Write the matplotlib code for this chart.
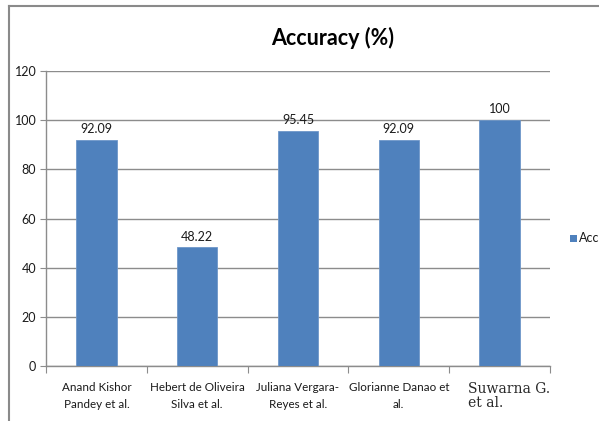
import matplotlib
matplotlib.use("Agg")
import matplotlib.pyplot as plt
from matplotlib.lines import Line2D
from matplotlib.patches import Rectangle
import numpy as np

authors = ["Anand Kishor\nPandey et al.", "Hebert de Oliveira\nSilva et al.",
           "Juliana Vergara-\nReyes et al.", "Glorianne Danao et\nal.",
           "Suwarna G.\net al."]
accuracy = [92.09, 48.22, 95.45, 92.09, 100]
value_labels = ["92.09", "48.22", "95.45", "92.09", "100"]
y_ticks = [0, 20, 40, 60, 80, 100, 120]
series_name = "Accuracy"

bar_color = "#4F81BD"
grid_color = "#8C8C8C"
text_color = "#1a1a1a"
font = ["Lato", "DejaVu Sans"]

fig = plt.figure(figsize=(5.99, 4.21), dpi=100)
ax = fig.add_axes([46 / 599, 1 - 366 / 421, 504 / 599, 295 / 421])

x = np.arange(len(accuracy))
ax.bar(x, accuracy, width=0.40, color=bar_color, edgecolor="#6F97C9",
       linewidth=0.6, zorder=3)
for xi, v, lab in zip(x, accuracy, value_labels):
    ax.annotate(lab, (xi, v), xytext=(0, 3.5), textcoords="offset points",
                ha="center", va="bottom", fontsize=9, family=font,
                color=text_color)

ax.set_xlim(-0.5, len(accuracy) - 0.5)
ax.set_ylim(0, 120)
ax.set_yticks(y_ticks)
ax.set_yticklabels([str(t) for t in y_ticks], family=font, fontsize=9,
                   color=text_color)
ax.yaxis.grid(True, color=grid_color, linewidth=1.0, zorder=0)
ax.set_axisbelow(True)
ax.tick_params(axis="y", length=4, width=0.8, color=grid_color, pad=3)

# category boundaries as tick marks, labels centred under bars
ax.set_xticks(np.arange(-0.5, len(accuracy)), minor=False)
ax.set_xticklabels([])
ax.tick_params(axis="x", length=5, width=0.8, color=grid_color)
for xi, lab in zip(x, authors):
    if xi == len(authors) - 1:
        ax.text(xi - 0.31, -6.6, lab, ha="left", va="top", fontsize=10,
                family=["DejaVu Serif"], color="#2a2a2a",
                linespacing=0.95, clip_on=False)
    else:
        ax.text(xi, -6.6, lab, ha="center", va="top", fontsize=8.4,
                family=font, color=text_color, linespacing=1.6,
                clip_on=False)

for side in ["top", "right"]:
    ax.spines[side].set_visible(False)
for side in ["left", "bottom"]:
    ax.spines[side].set_color(grid_color)
    ax.spines[side].set_linewidth(1.0)

fig.text(333 / 599, 1 - 38 / 421, "Accuracy (%)", ha="center", va="center",
         fontsize=15.5, fontweight="bold", family=font, color="#000000")

# legend entry (runs past the right edge)
fig.patches.append(Rectangle((570 / 599, 1 - 242 / 421), 7 / 599, 7 / 421,
                             transform=fig.transFigure, facecolor=bar_color,
                             edgecolor="none"))
fig.text(579 / 599, 1 - 238.5 / 421, series_name, ha="left", va="center",
         fontsize=9, family=font, color=text_color)

# outer chart frame
fig.add_artist(Line2D([8.5 / 599, 8.5 / 599], [0, 1 - 6 / 421],
                      transform=fig.transFigure, color="#8A8A8A", lw=1.5))
fig.add_artist(Line2D([8.5 / 599, 1], [1 - 6 / 421, 1 - 6 / 421],
                      transform=fig.transFigure, color="#8A8A8A", lw=1.5))

fig.savefig("out.png", dpi=100)
